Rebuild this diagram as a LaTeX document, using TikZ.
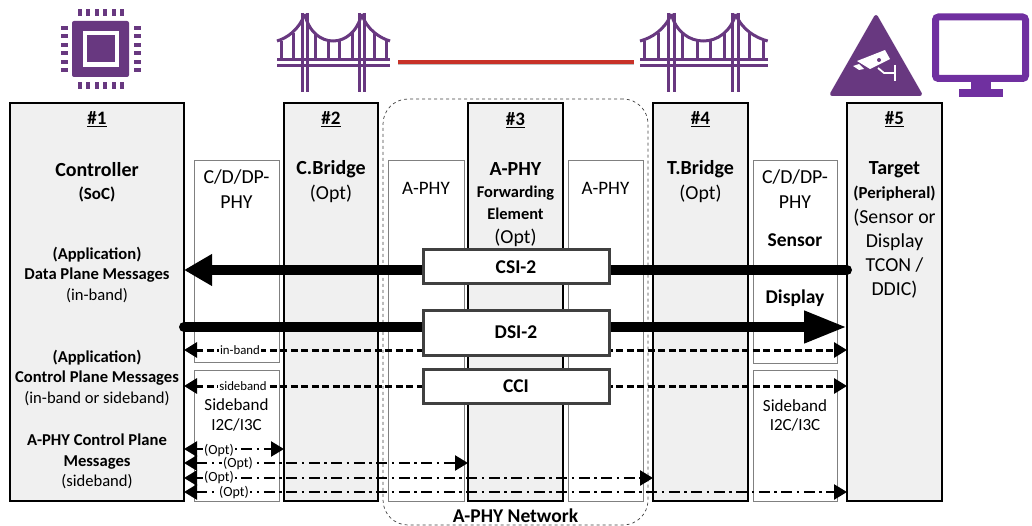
\documentclass[tikz,border=0pt]{standalone}
\usepackage{fontspec}
\setmainfont{Carlito}
\usepackage{tikz}
\usetikzlibrary{arrows.meta, positioning}
\definecolor{iconpurple}{RGB}{104, 56, 128}
\definecolor{screenpurple}{RGB}{112, 48, 160}
\definecolor{linkred}{RGB}{200, 50, 40}
\definecolor{hostgray}{RGB}{240, 240, 240}
\definecolor{msgedge}{RGB}{64, 64, 64}
\newcommand{\fsz}[2]{\fontsize{#1}{#2}\selectfont}
\newcommand{\bridgeicon}[2]{%
  \begin{scope}[shift={(#1,0)}, xscale=#2, draw=iconpurple, line width=3pt]
    \draw (25,13) -- (25,92);
    \draw (30.5,13) -- (30.5,92);
    \draw (82,13) -- (82,92);
    \draw (87.5,13) -- (87.5,92);
    \draw (0,60) -- (113,60);
    \draw (0,66) -- (113,66);
    \draw (0,41) .. controls (10,38) and (22,30) .. (27.7,14);
    \draw (27.7,14) .. controls (36,50) and (76,50) .. (84.7,14);
    \draw (84.7,14) .. controls (90,30) and (103,38) .. (113,41);
    \foreach \hx/\hy in {4/41, 16/33, 38/33, 51/40, 62/40, 75/33, 97/33, 109/40}
      \draw (\hx,\hy) -- (\hx,60);
  \end{scope}}
\begin{document}
\begin{tikzpicture}[
  x=1pt, y=-1pt,
  hostbox/.style={
    rectangle, draw=black, fill=hostgray, line width=1.3pt,
    anchor=north west, minimum height=398pt, outer sep=0pt
  },
  phybox/.style={
    rectangle, draw=black!50, fill=white, line width=1pt,
    anchor=north west, outer sep=0pt
  },
  msgbox/.style={
    rectangle, draw=msgedge, fill=white, line width=3pt,
    anchor=north west, minimum width=186pt, outer sep=0pt,
    font=\fsz{19.5}{22}\bfseries, inner sep=0pt
  },
  numlabel/.style={font=\fsz{19}{22}\bfseries},
  titlelabel/.style={font=\fsz{20}{24}\bfseries},
  plainlabel/.style={font=\fsz{19.8}{24.5}, align=center},
  msglabel/.style={font=\fsz{16.6}{20.5}, align=center},
  smalllabel/.style={fill=white, inner sep=1.5pt, font=\fsz{12.8}{14}},
  optlabel/.style={fill=white, inner sep=1.5pt, font=\fsz{14}{15}},
  heavyarrow/.style={line width=10pt, line cap=round},
  heavytip/.style={-{Triangle[length=#1, width=30pt]}},
  dotarrow/.style={
    {Triangle[length=13pt, width=15pt]}-{Triangle[length=13pt, width=15pt]},
    line width=3pt, dash pattern=on 7pt off 3.5pt
  },
  dashdotarrow/.style={
    {Triangle[length=13pt, width=15pt]}-{Triangle[length=13pt, width=15pt]},
    line width=2.5pt, dash pattern=on 11pt off 4.5pt on 2.5pt off 4.5pt
  }
]
  \useasboundingbox (0,0) rectangle (1032,526);

  % Network outline
  \node[rectangle, draw=black!75, dashed, line width=0.7pt, rounded corners=25pt,
    anchor=north west, minimum width=265pt, minimum height=426pt, outer sep=0pt] (net) at (383,99) {};

  % Numbered blocks
  \node[hostbox, minimum width=174pt] (ctrl) at (10,103) {};
  \node[hostbox, minimum width=94pt, right=100pt of ctrl.north east, anchor=north west] (cbr) {};
  \node[hostbox, minimum width=95pt, right=90pt of cbr.north east, anchor=north west] (fwd) {};
  \node[hostbox, minimum width=95pt, right=90pt of fwd.north east, anchor=north west] (tbr) {};
  \node[hostbox, minimum width=95pt, right=99pt of tbr.north east, anchor=north west] (tgt) {};

  % PHY columns
  \node[phybox, minimum width=85pt, minimum height=201pt] (cphy) at (194,161) {};
  \node[phybox, minimum width=85pt, minimum height=131pt, below=8pt of cphy.south west, anchor=north west] (csb) {};
  \node[phybox, minimum width=76pt, minimum height=340pt] (aphyl) at (388,161) {};
  \node[phybox, minimum width=75pt, minimum height=340pt] (aphyr) at (568,161) {};
  \node[phybox, minimum width=84pt, minimum height=202pt] (tphy) at (753,161) {};
  \node[phybox, minimum width=84pt, minimum height=131pt, below=7pt of tphy.south west, anchor=north west] (tsb) {};

  % Block numbers
  \node[numlabel] (n1) at (ctrl.north |- 0,119) {\underline{\#1}};
  \node[numlabel] (n2) at (cbr.north |- 0,119) {\underline{\#2}};
  \node[numlabel] (n3) at (fwd.north |- 0,120) {\underline{\#3}};
  \node[numlabel] (n4) at (tbr.north |- 0,119) {\underline{\#4}};
  \node[numlabel] (n5) at (tgt.north |- 0,119) {\underline{\#5}};

  % Controller texts
  \node[titlelabel] (ct1) at (ctrl.north |- 0,169.5) {Controller};
  \node[font=\fsz{17}{19}\bfseries] (ct2) at (ctrl.north |- 0,194) {(SoC)};
  \node[msglabel] (dp) at (ctrl.north |- 0,274.5) {\textbf{(Application)}\\\textbf{Data Plane Messages}\\(in-band)};
  \node[msglabel] (cp) at (ctrl.north |- 0,377.5) {\textbf{(Application)}\\\textbf{Control Plane Messages}\\(in-band or sideband)};
  \node[msglabel] (ap) at (ctrl.north |- 0,461.5) {\textbf{A-PHY Control Plane}\\\textbf{Messages}\\(sideband)};

  % Bridge and element texts
  \node[titlelabel] (cb1) at (cbr.north |- 0,169.5) {C.Bridge};
  \node[font=\fsz{19.8}{22}] (cb2) at (cbr.north |- 0,193.5) {(Opt)};
  \node[titlelabel] (tb1) at (tbr.north |- 0,169.5) {T.Bridge};
  \node[font=\fsz{19.8}{22}] (tb2) at (tbr.north |- 0,193.5) {(Opt)};
  \node[titlelabel] (fe1) at (fwd.north |- 0,169.5) {A-PHY};
  \node[font=\fsz{16.4}{22}\bfseries, align=center] (fe2) at (fwd.north |- 0,202.5) {Forwarding\\Element};
  \node[font=\fsz{19.8}{22}] (fe3) at (fwd.north |- 0,237.5) {(Opt)};

  % Target texts
  \node[titlelabel] (tg1) at (tgt.north |- 0,169.5) {Target};
  \node[font=\fsz{16.8}{19}\bfseries] (tg2) at (tgt.north |- 0,194) {(Peripheral)};
  \node[plainlabel, font=\fsz{19.8}{24}] (tg3) at (tgt.north |- 0,253.5) {(Sensor or\\Display\\TCON /\\DDIC)};

  % PHY texts
  \node[plainlabel] (cp1) at (cphy.north |- 0,189) {C/D/DP-\\PHY};
  \node[plainlabel] (tp1) at (tphy.north |- 0,189) {C/D/DP-\\PHY};
  \node[font=\fsz{19.5}{22}\bfseries] (tp2) at (tphy.north |- 0,240.5) {Sensor};
  \node[font=\fsz{19.5}{22}\bfseries] (tp3) at (tphy.north |- 0,298.5) {Display};
  \node[font=\fsz{19}{22}] (al) at (aphyl.north |- 0,188.5) {A-PHY};
  \node[font=\fsz{19}{22}] (ar) at (aphyr.north |- 0,188.5) {A-PHY};
  \node[font=\fsz{17}{20.5}, align=center] (cs1) at (csb.north |- 0,415) {Sideband\\I2C/I3C};
  \node[font=\fsz{17}{19.5}, align=center] (ts1) at (tsb.north |- 0,415.5) {Sideband\\I2C/I3C};
  \node[font=\fsz{19.5}{22}\bfseries] (nl) at (net.south |- 0,516) {A-PHY Network};

  % Message boxes
  \coordinate (csirow) at (0,270);
  \coordinate (dsirow) at (0,327);
  \coordinate (inrow) at (0,350);
  \coordinate (sbrow) at (0,386);
  \coordinate (opta) at (0,449);
  \coordinate (optb) at (0,463);
  \coordinate (optc) at (0,478);
  \coordinate (optd) at (0,492);

  % Arrows
  \draw[heavyarrow, heavytip=28pt] (tgt.west |- csirow) -- (ctrl.east |- csirow);
  \draw[heavyarrow, heavytip=43pt] (ctrl.east |- dsirow) -- (tgt.west |- dsirow);
  \draw[dotarrow] (ctrl.east |- inrow) -- (tgt.west |- inrow);
  \draw[dotarrow] (ctrl.east |- sbrow) -- (tgt.west |- sbrow);
  \draw[dashdotarrow] (ctrl.east |- opta) -- (cbr.west |- opta);
  \draw[dashdotarrow] (ctrl.east |- optb) -- (fwd.west |- optb);
  \draw[dashdotarrow] (ctrl.east |- optc) -- (tbr.west |- optc);
  \draw[dashdotarrow] (ctrl.east |- optd) -- (tgt.west |- optd);

  \node[msgbox, minimum height=34pt] (csi) at (423,250) {CSI-2};
  \node[msgbox, minimum height=45pt] (dsi) at (423,310) {DSI-2};
  \node[msgbox, minimum height=34pt] (cci) at (423,369) {CCI};

  % Line labels
  \node[smalllabel] (lin) at (240,350) {in-band};
  \node[smalllabel] (lsb) at (243,386) {sideband};
  \node[optlabel] (la) at (219,451) {(Opt)};
  \node[optlabel] (lb) at (238,464) {(Opt)};
  \node[optlabel] (lc) at (219,478) {(Opt)};
  \node[optlabel] (ld) at (234,493) {(Opt)};

  % Chip icon
  \fill[iconpurple, rounded corners=2pt] (72,21) rectangle (129,77);
  \fill[white] (83,31) rectangle (119,67);
  \fill[iconpurple] (87,35) rectangle (115,62);
  \foreach \p in {0,...,5} {
    \fill[iconpurple] (78+8.4*\p,9) rectangle (82+8.4*\p,16);
    \fill[iconpurple] (78+8.4*\p,82) rectangle (82+8.4*\p,89);
    \fill[iconpurple] (61,26+8.4*\p) rectangle (68,30+8.4*\p);
    \fill[iconpurple] (134,26+8.4*\p) rectangle (141,30+8.4*\p);
  }

  % Bridge icons
  \bridgeicon{277}{1}
  \bridgeicon{640}{1.13}
  \coordinate (linkl) at (398,62);
  \coordinate (linkr) at (634,62);
  \draw[black!25, line width=4pt] ([yshift=-1.5pt]linkl) -- ([yshift=-1.5pt]linkr);
  \draw[linkred, line width=4.5pt] (linkl) -- (linkr);

  % Camera icon
  \fill[iconpurple, draw=iconpurple, line width=4pt, line join=round] (876,17) -- (832,94) -- (920,94) -- cycle;
  \fill[white] (857,61) -- (885,50) -- (890,59) -- (870,69) -- cycle;
  \fill[white] (853,66) -- (859,64) -- (864,69) -- (859,70) -- cycle;
  \fill[iconpurple] (879,60) circle (2pt);
  \draw[white, line width=1.8pt] (878,68) -- (884,73) -- (895,73);
  \draw[white, line width=1.8pt] (895,65) -- (895,81);

  % Monitor icon
  \draw[screenpurple, line width=7pt, rounded corners=3pt] (935.5,17) rectangle (1025.5,78.5);
  \fill[screenpurple] (971,81) rectangle (991,90);
  \fill[screenpurple] (959,89) rectangle (1003,97);
\end{tikzpicture}
\end{document}
